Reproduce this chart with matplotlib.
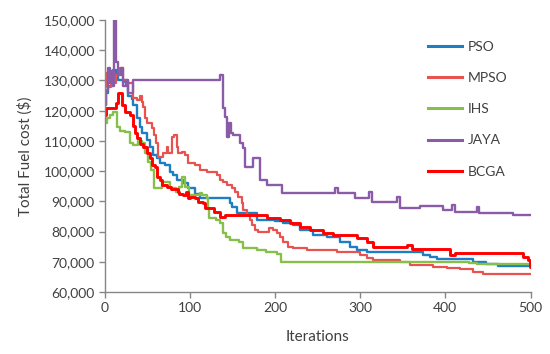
import matplotlib
matplotlib.use("Agg")
import matplotlib.pyplot as plt
from matplotlib.ticker import FuncFormatter

plt.rcParams['font.family'] = ['Lato', 'DejaVu Sans']

series_names = ["PSO", "MPSO", "IHS", "JAYA", "BCGA"]

pso_iter = [0, 2, 4, 10, 13, 16, 24, 28, 32, 34, 38, 42, 44, 50, 53, 57, 62, 65, 71, 77, 80, 85, 92, 98,
            106, 112, 144, 147, 150, 155, 167, 179, 200, 210, 221, 229, 245, 261, 276, 288, 296, 308, 367,
            374, 382, 390, 429, 432, 444, 448, 462, 500]
pso_cost = [122000, 126000, 128000, 133500, 131000, 130000, 129500, 125000, 124000, 122000, 117600, 114600,
            112600, 110300, 108000, 105300, 104300, 102700, 102000, 99700, 98700, 97000, 96100, 94400,
            92500, 91100, 91100, 89400, 88000, 86100, 86100, 83800, 83500, 82800, 82200, 80500, 78900,
            78200, 76500, 74900, 73900, 73200, 73200, 72200, 71600, 70900, 70900, 70000, 70000, 69300,
            68600, 68600]

mpso_iter = [0, 3, 8, 14, 18, 22, 28, 33, 38, 42, 44, 45, 47, 50, 56, 58, 61, 63, 69, 73, 75, 79, 82, 85,
             86, 91, 94, 98, 106, 112, 120, 128, 132, 136, 139, 144, 150, 153, 157, 161, 163, 167, 171,
             173, 177, 180, 193, 198, 202, 206, 210, 215, 221, 238, 273, 300, 308, 315, 347, 358, 370,
             386, 402, 417, 432, 444, 500]
mpso_cost = [132500, 127800, 129000, 131800, 134100, 130000, 129000, 124200, 123500, 125000, 123000,
             121200, 117600, 115900, 114300, 111900, 109300, 104700, 106000, 108000, 106000, 111300,
             112000, 108000, 106000, 106300, 105300, 102700, 102000, 100400, 99700, 99700, 98700, 97000,
             96400, 95400, 94400, 93100, 91400, 89400, 87100, 85500, 83800, 82200, 80500, 79900, 81200,
             80500, 79500, 78200, 76500, 74900, 74600, 73900, 73200, 72200, 71300, 70600, 69900, 68900,
             69000, 68300, 67900, 67600, 66600, 66000, 66000]

ihs_iter = [0, 3, 6, 10, 15, 18, 24, 30, 34, 39, 44, 48, 51, 55, 58, 68, 77, 84, 88, 91, 94, 99, 112, 115,
            120, 121, 123, 131, 136, 139, 143, 147, 158, 162, 179, 190, 203, 207, 420, 428, 437, 500]
ihs_cost = [116000, 117500, 118600, 119600, 114600, 113300, 113000, 109300, 108600, 110000, 109300,
            106000, 103000, 100400, 94400, 96400, 94400, 93100, 94700, 98000, 94700, 92100, 92800, 92100,
            91100, 87800, 84500, 83800, 82800, 79500, 78200, 77200, 76500, 74600, 73900, 73200, 72600,
            70000, 70000, 69600, 69300, 69300]

jaya_iter = [0, 2, 4, 6, 8, 10, 11, 14, 16, 19, 22, 25, 28, 33, 136, 139, 141, 144, 146, 148, 151, 159,
             162, 165, 174, 183, 191, 208, 270, 274, 294, 311, 314, 343, 347, 370, 397, 408, 411, 437,
             439, 479, 500]
jaya_cost = [122000, 127000, 134000, 129000, 133000, 128000, 150000, 136000, 131800, 134000, 128000,
             130000, 125800, 130150, 131800, 121000, 117900, 111300, 116000, 112600, 112000, 109300,
             107500, 101400, 104400, 97000, 95400, 92700, 94500, 92700, 91100, 93000, 89800, 91500,
             87800, 88500, 87100, 88800, 86500, 88000, 86100, 85500, 85500]

bcga_iter = [0, 2, 14, 16, 21, 24, 30, 33, 36, 38, 42, 45, 50, 53, 56, 59, 62, 65, 68, 73, 78, 86, 88,
             92, 96, 98, 100, 106, 110, 116, 118, 128, 135, 141, 180, 191, 206, 218, 230, 241, 256, 268,
             296, 308, 315, 347, 355, 361, 405, 411, 491, 497, 499, 500]
bcga_cost = [118500, 121000, 122500, 125800, 121900, 119600, 118600, 115000, 112600, 111000, 109000,
             108000, 106000, 104300, 102000, 101400, 98000, 97000, 95400, 94700, 94000, 93100, 92500,
             92100, 93000, 91000, 91400, 91000, 89800, 89400, 87800, 86500, 84800, 85500, 85500, 84500,
             83800, 82800, 81500, 80500, 79500, 78900, 77900, 76500, 74900, 74900, 75500, 74200, 72200,
             72900, 71600, 70600, 68300, 68300]

colors = ["#1F7DC4", "#E8534F", "#86C04A", "#8A5CA8", "#FF0000"]
widths = [1.7, 1.6, 1.7, 1.7, 2.1]
data = [(pso_iter, pso_cost), (mpso_iter, mpso_cost), (ihs_iter, ihs_cost),
        (jaya_iter, jaya_cost), (bcga_iter, bcga_cost)]

fig = plt.figure(figsize=(5.5, 3.54), dpi=100)
ax = fig.add_axes([104.5 / 550, 1 - 292 / 354, (530.5 - 104.5) / 550, (292 - 20) / 354])

for name, (xs, ys), c, lw in zip(series_names, data, colors, widths):
    ax.plot(xs, ys, drawstyle="steps-post", color=c, lw=lw, label=name)

ax.set_xlim(0, 500)
ax.set_ylim(60000, 150000)
ax.set_xticks(range(0, 501, 100))
ax.set_yticks(range(60000, 150001, 10000))
ax.yaxis.set_major_formatter(FuncFormatter(lambda v, p: f"{int(v):,}"))

for s in ["top", "right"]:
    ax.spines[s].set_visible(False)
for s in ["left", "bottom"]:
    ax.spines[s].set_color("#868686")
    ax.spines[s].set_linewidth(1.0)
ax.tick_params(axis="both", direction="out", length=4, width=1, color="#868686",
               labelsize=10, labelcolor="#404040", pad=3)

ax.set_xlabel("Iterations", fontsize=11, color="#404040", labelpad=12)
ax.set_ylabel("Total Fuel cost ($)", fontsize=11, color="#404040", labelpad=8)

leg = ax.legend(loc="upper left", bbox_to_anchor=(428 / 550, 1 - 41 / 354), bbox_transform=fig.transFigure,
                frameon=False, fontsize=10, labelspacing=1.38, handlelength=2.45, handletextpad=0.4,
                borderpad=0, borderaxespad=0)
for t in leg.get_texts():
    t.set_color("#404040")
for h in leg.get_lines():
    h.set_linewidth(2.2)

fig.savefig("out.png", dpi=100)
